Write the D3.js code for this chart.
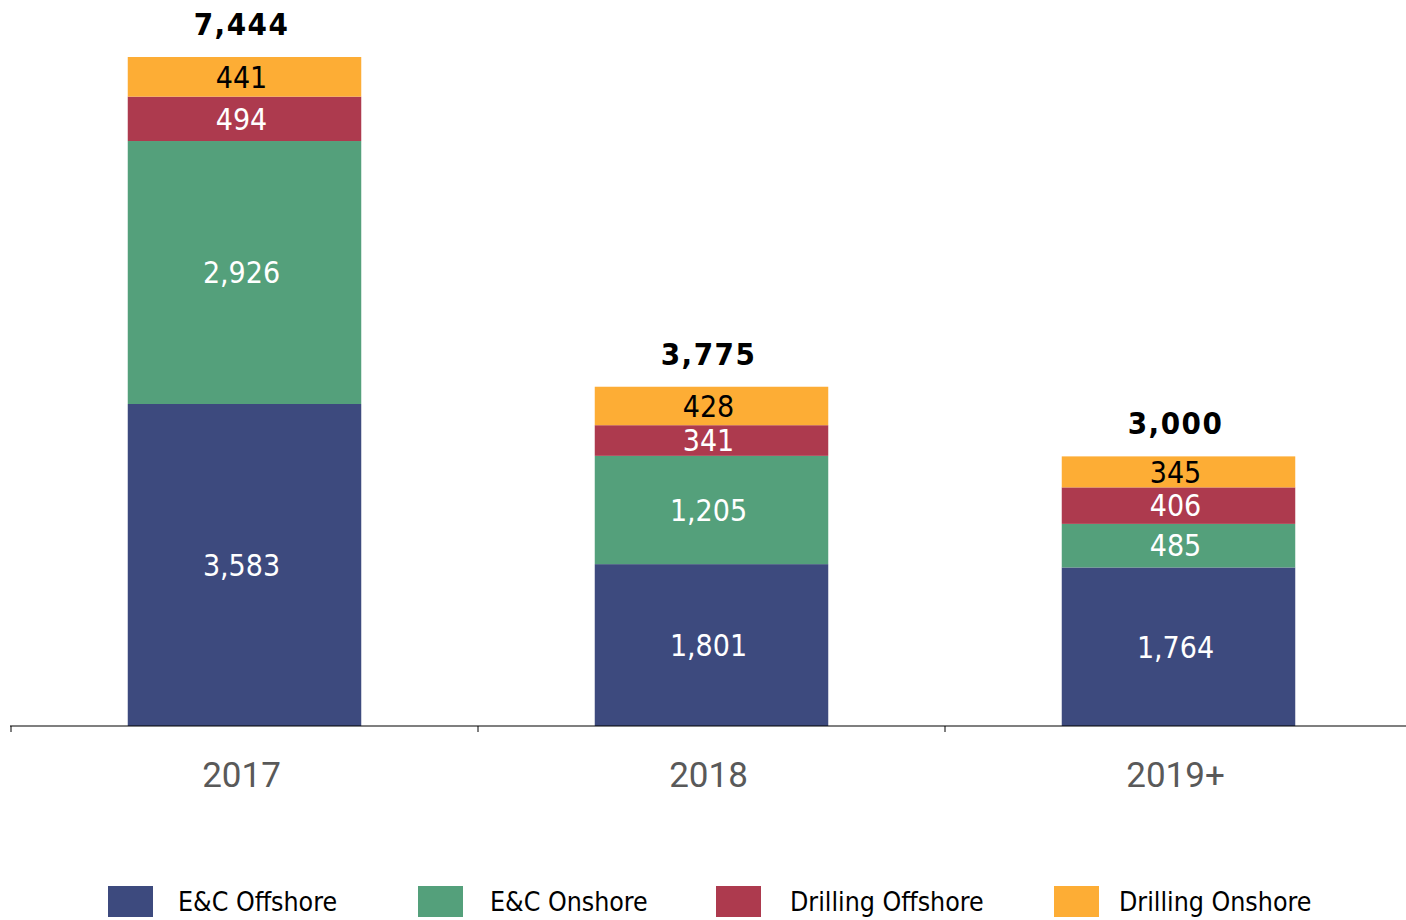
<!DOCTYPE html>
<html>
<head>
<meta charset="utf-8">
<script src="https://cdn.jsdelivr.net/npm/d3@7"></script>
<style>
  body { margin: 0; background: #fff; }
  svg { display: block; font-family: "DejaVu Sans Condensed", "DejaVu Sans", sans-serif; }
</style>
</head>
<body>
<svg width="1406" height="920"></svg>
<script>
const years = ["2017", "2018", "2019+"];
const series = ["E&C Offshore", "E&C Onshore", "Drilling Offshore", "Drilling Onshore"];
const ecOffshore = [3583, 1801, 1764];
const ecOnshore = [2926, 1205, 485];
const drillingOffshore = [494, 341, 406];
const drillingOnshore = [441, 428, 345];
const totals = [7444, 3775, 3000];

const colors = ["#3d4a7e", "#54a07b", "#ad3a4e", "#fdad35"];
const textColors = ["#fff", "#fff", "#fff", "#000"];

const svg = d3.select("svg");

const rows = years.map((y, i) => ({
    year: y,
    "E&C Offshore": ecOffshore[i],
    "E&C Onshore": ecOnshore[i],
    "Drilling Offshore": drillingOffshore[i],
    "Drilling Onshore": drillingOnshore[i],
    total: totals[i]
}));

const stacked = d3.stack().keys(series)(rows);

const x = d3.scaleBand()
    .domain(years)
    .range([11, 1412])
    .paddingInner(0.5)
    .paddingOuter(0.25);

const y = d3.scaleLinear()
    .domain([0, 7444])
    .range([726, 57]);

const fmt = d3.format(",");
// text sits a little left of the bar centre in the original
const mid = d => x(d) + x.bandwidth() / 2 - 3;

// bars
const layers = svg.append("g")
    .selectAll("g")
    .data(stacked)
    .join("g")
    .attr("fill", (d, i) => colors[i]);

layers.selectAll("rect")
    .data(d => d)
    .join("rect")
    .attr("x", d => x(d.data.year))
    .attr("width", x.bandwidth())
    .attr("y", d => y(d[1]))
    .attr("height", d => y(d[0]) - y(d[1]));

// segment labels
stacked.forEach((layer, i) => {
    svg.append("g")
        .selectAll("text")
        .data(layer)
        .join("text")
        .attr("x", d => mid(d.data.year))
        .attr("y", d => (y(d[0]) + y(d[1])) / 2)
        .attr("dy", "0.36em")
        .attr("text-anchor", "middle")
        .style("font-size", "30px")
        .style("fill", textColors[i])
        .text(d => fmt(d[1] - d[0]));
});

// totals
svg.append("g")
    .selectAll("text")
    .data(rows)
    .join("text")
    .attr("x", d => mid(d.year))
    .attr("y", d => y(d.total) - 22)
    .attr("text-anchor", "middle")
    .style("font-size", "31px")
    .style("font-weight", "600")
    .style("letter-spacing", "1.5px")
    .text(d => fmt(d.total));

// x axis
const axis = svg.append("g")
    .attr("transform", "translate(0,726)");

axis.append("line")
    .attr("x1", 10).attr("x2", 1406)
    .attr("stroke", "#000").attr("stroke-width", 1.2);

const step = x.step();
axis.selectAll(".tick")
    .data(d3.range(years.length))
    .join("line")
    .attr("class", "tick")
    .attr("x1", i => 11 + i * step).attr("x2", i => 11 + i * step)
    .attr("y1", 0).attr("y2", 6)
    .attr("stroke", "#000");

axis.selectAll(".label")
    .data(years)
    .join("text")
    .attr("class", "label")
    .attr("x", d => mid(d))
    .attr("y", 61)
    .attr("text-anchor", "middle")
    .style("font-family", "Roboto, sans-serif")
    .style("font-size", "35px")
    .style("fill", "#595959")
    .text(d => d);

// legend
const legendX = [108, 418, 716, 1054];
const legendTextX = [178, 490, 790, 1119];
const legend = svg.append("g")
    .selectAll("g")
    .data(series)
    .join("g");

legend.append("rect")
    .attr("x", (d, i) => legendX[i])
    .attr("y", 886)
    .attr("width", 45)
    .attr("height", 31)
    .attr("fill", (d, i) => colors[i]);

legend.append("text")
    .attr("x", (d, i) => legendTextX[i])
    .attr("y", 911)
    .style("font-size", "26.5px")
    .style("fill", "#000")
    .text(d => d);
</script>
</body>
</html>
